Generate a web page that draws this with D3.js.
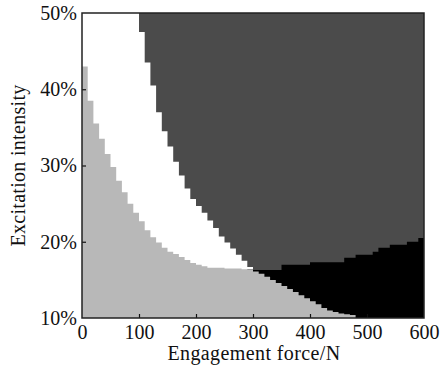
<!DOCTYPE html>
<html>
<head>
<meta charset="utf-8">
<script src="https://cdn.jsdelivr.net/npm/d3@7"></script>
<style>
  body { margin: 0; background: #fff; }
  svg text { font-family: "Liberation Serif", "Times New Roman", serif; fill: #111; }
</style>
</head>
<body>
<svg id="chart" width="445" height="367"></svg>
<script>
// Force grid (N), one column every 10 N
const forces = [0, 10, 20, 30, 40, 50, 60, 70, 80, 90,
  100, 110, 120, 130, 140, 150, 160, 170, 180, 190,
  200, 210, 220, 230, 240, 250, 260, 270, 280, 290,
  300, 310, 320, 330, 340, 350, 360, 370, 380, 390,
  400, 410, 420, 430, 440, 450, 460, 470, 480, 490,
  500, 510, 520, 530, 540, 550, 560, 570, 580, 590];

// Top of the light grey zone (%), for every column
const grayTop = [43, 38.5, 35.5, 33.5, 31.5, 29.8, 28.0, 26.5, 25.0, 23.8,
  22.7, 21.5, 20.6, 19.9, 19.2, 18.7, 18.4, 18.0, 17.6, 17.2,
  17.0, 16.8, 16.6, 16.6, 16.6, 16.5, 16.5, 16.5, 16.4, 16.4,
  16.1, 15.8, 15.4, 15.0, 14.6, 14.2, 13.8, 13.4, 13.0, 12.6,
  12.2, 11.8, 11.3, 11.0, 10.8, 10.6, 10.5, 10.4, 10, 10,
  10, 10, 10, 10, 10, 10, 10, 10, 10, 10];

// Top of the white zone (%), columns 0..290 N
const whiteTop = [50, 50, 50, 50, 50, 50, 50, 50, 50, 50,
  47.5, 43.5, 40.5, 37.0, 34.5, 32.5, 30.5, 28.7, 27.0, 25.6,
  24.7, 23.8, 22.8, 21.8, 20.7, 19.9, 19.1, 18.3, 17.5, 16.7];

// Top of the black zone (%), columns 290..590 N
const blackForces = forces.slice(29);
const blackTop = [16.4,
  16.3, 16.3, 16.3, 16.3, 16.3, 17.0, 17.0, 17.0, 17.0, 17.0,
  17.3, 17.3, 17.3, 17.3, 17.3, 17.3, 17.9, 17.9, 18.3, 18.3,
  18.3, 18.7, 19.2, 19.2, 19.6, 19.6, 19.6, 20.0, 20.0, 20.5];

const xTicks = [0, 100, 200, 300, 400, 500, 600];
const yTicks = [10, 20, 30, 40, 50];

const margin = { top: 13, right: 21, bottom: 49, left: 82 };
const width = 445 - margin.left - margin.right;
const height = 367 - margin.top - margin.bottom;

const svg = d3.select("#chart");
const g = svg.append("g").attr("transform", `translate(${margin.left},${margin.top})`);

const x = d3.scaleLinear().domain([0, 600]).range([0, width]);
const y = d3.scaleLinear().domain([10, 50]).range([height, 0]);

// stepped area from 10% up to a boundary
function stepArea(fs, vals) {
  const pts = fs.map((f, i) => ({ f: f, v: vals[i] }));
  pts.push({ f: fs[fs.length - 1] + 10, v: vals[vals.length - 1] });
  return d3.area()
    .x(d => x(d.f))
    .y0(y(10))
    .y1(d => y(d.v))
    .curve(d3.curveStepAfter)(pts);
}

// dark grey background covers the whole plot
g.append("rect")
  .attr("x", x(0)).attr("y", y(50))
  .attr("width", x(600) - x(0)).attr("height", y(10) - y(50))
  .attr("fill", "#4b4b4b");

g.append("path").attr("d", stepArea(forces.slice(0, 30), whiteTop)).attr("fill", "#ffffff");
g.append("path").attr("d", stepArea(blackForces, blackTop)).attr("fill", "#000000");
g.append("path").attr("d", stepArea(forces, grayTop)).attr("fill", "#b8b8b8");

// axes with inward ticks
const xAxis = g.append("g")
  .attr("transform", `translate(0,${height})`)
  .call(d3.axisBottom(x).tickValues(xTicks).tickSize(-4).tickPadding(7).tickFormat(d3.format("d")));
const yAxis = g.append("g")
  .call(d3.axisLeft(y).tickValues(yTicks).tickSize(-4).tickPadding(5).tickFormat(d => d + "%"));

[xAxis, yAxis].forEach(a => {
  a.select(".domain").remove();
  a.selectAll(".tick line").attr("stroke", "#111").attr("stroke-width", 1.2);
  a.selectAll(".tick text").attr("font-size", 20).attr("fill", "#111")
    .style("font-family", "'Liberation Serif', serif");
});
xAxis.selectAll(".tick text").attr("dy", "0.72em");
xAxis.selectAll(".tick line").filter(d => d === 0 || d === 600).remove();
yAxis.selectAll(".tick line").filter(d => d === 10 || d === 50).remove();

// frame
g.append("rect")
  .attr("x", 0).attr("y", 0)
  .attr("width", width).attr("height", height)
  .attr("fill", "none")
  .attr("stroke", "#222")
  .attr("stroke-width", 1.5);

// axis titles
svg.append("text")
  .attr("x", margin.left + width / 2 + 1)
  .attr("y", 360)
  .attr("text-anchor", "middle")
  .attr("font-size", 20)
  .attr("letter-spacing", 0.4)
  .text("Engagement  force/N");

svg.append("text")
  .attr("transform", `translate(25,${margin.top + height / 2}) rotate(-90)`)
  .attr("text-anchor", "middle")
  .attr("font-size", 20)
  .attr("letter-spacing", 0.3)
  .text("Excitation  intensity");
</script>
</body>
</html>
